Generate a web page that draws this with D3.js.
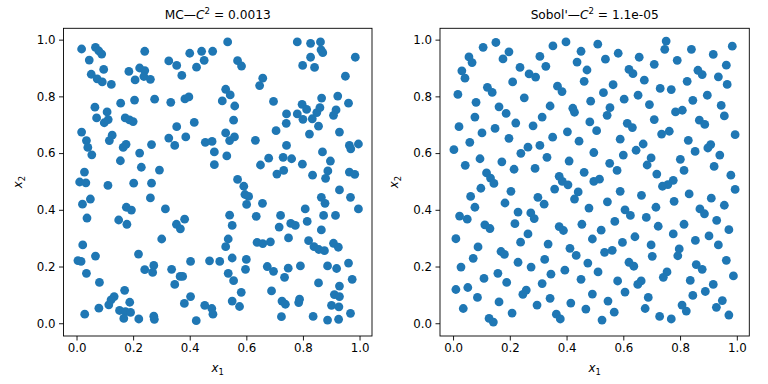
<!DOCTYPE html>
<html><head><meta charset="utf-8">
<script src="https://cdn.jsdelivr.net/npm/d3@7"></script>
<style>body{margin:0;background:#fff}svg{display:block}text{font-family:"DejaVu Sans",sans-serif}</style>
</head><body>
<svg id="c" width="768" height="384"></svg>
<script>
const tickValues = [0.0, 0.2, 0.4, 0.6, 0.8, 1.0];
const mcTitle = {name: "MC—", value: "0.0013"};
const sobolTitle = {name: "Sobol'—", value: "1.1e-05"};
const xLabelSub = "1", yLabelSub = "2";

const mcPoints = [
[0.018,0.967],[0.067,0.973],[0.079,0.960],[0.089,0.949],[0.045,0.928],[0.241,0.959],[0.052,0.878],[0.073,0.862],[0.091,0.851],[0.123,0.842],[0.096,0.895],[0.185,0.888],[0.223,0.900],[0.241,0.891],[0.238,0.870],[0.207,0.858],[0.261,0.860],[0.326,0.925],[0.354,0.909],[0.372,0.874],[0.400,0.952],[0.442,0.959],[0.481,0.959],[0.451,0.927],[0.424,0.903],[0.065,0.762],[0.108,0.745],[0.071,0.724],[0.098,0.707],[0.112,0.718],[0.156,0.776],[0.205,0.787],[0.172,0.724],[0.187,0.717],[0.200,0.711],[0.276,0.790],[0.333,0.779],[0.383,0.791],[0.397,0.798],[0.354,0.693],[0.416,0.708],
[0.534,0.992],[0.780,0.992],[0.827,0.987],[0.862,0.992],[0.864,0.964],[0.870,0.954],[0.985,0.938],[0.827,0.938],[0.799,0.909],[0.841,0.902],[0.569,0.926],[0.583,0.907],[0.658,0.864],[0.647,0.838],[0.950,0.871],[0.527,0.825],[0.543,0.805],[0.515,0.784],[0.559,0.766],[0.555,0.716],[0.696,0.782],[0.866,0.794],[0.923,0.801],[0.961,0.776],[0.797,0.772],[0.813,0.754],[0.780,0.738],[0.800,0.719],[0.833,0.721],[0.849,0.743],[0.860,0.760],[0.742,0.738],[0.741,0.705],[0.917,0.752],[0.908,0.733],[0.855,0.695],
[0.018,0.674],[0.126,0.663],[0.116,0.644],[0.035,0.644],[0.040,0.620],[0.054,0.594],[0.165,0.620],[0.175,0.631],[0.223,0.600],[0.265,0.630],[0.326,0.653],[0.347,0.627],[0.386,0.657],[0.455,0.638],[0.479,0.641],[0.487,0.604],[0.487,0.559],[0.155,0.573],[0.229,0.550],[0.293,0.540],[0.028,0.533],[0.011,0.498],[0.033,0.495],[0.111,0.486],[0.202,0.494],[0.265,0.494],[0.049,0.438],[0.021,0.420],[0.261,0.442],[0.176,0.409],[0.194,0.399],[0.314,0.403],[0.037,0.371],[0.149,0.364],[0.178,0.349],[0.382,0.367],[0.353,0.349],[0.367,0.333],
[0.527,0.671],[0.541,0.644],[0.558,0.657],[0.705,0.679],[0.823,0.667],[0.929,0.674],[0.632,0.645],[0.742,0.627],[0.531,0.590],[0.679,0.582],[0.650,0.558],[0.730,0.585],[0.760,0.580],[0.708,0.526],[0.732,0.539],[0.798,0.561],[0.869,0.604],[0.897,0.572],[0.964,0.627],[0.969,0.615],[0.996,0.632],[0.834,0.522],[0.888,0.537],[0.880,0.511],[0.964,0.533],[0.983,0.525],[0.569,0.507],[0.591,0.483],[0.595,0.454],[0.608,0.447],[0.601,0.419],[0.657,0.423],[0.929,0.470],[0.968,0.444],[0.865,0.444],[0.878,0.423],[0.996,0.403],[0.808,0.403],[0.541,0.381],[0.550,0.345],[0.635,0.377],[0.721,0.380],[0.716,0.339],[0.757,0.352],[0.773,0.345],[0.815,0.359],[0.873,0.380],[0.915,0.380],[0.865,0.329],
[0.022,0.276],[0.005,0.221],[0.016,0.218],[0.067,0.237],[0.035,0.176],[0.081,0.144],[0.133,0.094],[0.122,0.082],[0.114,0.065],[0.079,0.053],[0.170,0.116],[0.188,0.074],[0.152,0.045],[0.173,0.041],[0.191,0.038],[0.167,0.017],[0.029,0.032],[0.219,0.244],[0.301,0.297],[0.241,0.189],[0.273,0.204],[0.269,0.179],[0.336,0.190],[0.366,0.165],[0.375,0.165],[0.347,0.137],[0.403,0.218],[0.470,0.220],[0.220,0.015],[0.273,0.025],[0.275,0.014],[0.403,0.094],[0.381,0.070],[0.453,0.063],[0.478,0.052],[0.482,0.032],[0.423,0.009],
[0.536,0.297],[0.527,0.270],[0.638,0.285],[0.658,0.281],[0.685,0.287],[0.749,0.301],[0.820,0.291],[0.839,0.270],[0.856,0.260],[0.876,0.256],[0.908,0.282],[0.925,0.268],[0.506,0.218],[0.550,0.230],[0.600,0.225],[0.597,0.190],[0.536,0.176],[0.555,0.150],[0.582,0.109],[0.550,0.078],[0.576,0.059],[0.674,0.200],[0.696,0.183],[0.748,0.194],[0.791,0.202],[0.735,0.162],[0.689,0.114],[0.726,0.078],[0.738,0.067],[0.785,0.073],[0.788,0.085],[0.724,0.023],[0.836,0.024],[0.887,0.202],[0.919,0.193],[0.961,0.212],[0.855,0.142],[0.929,0.131],[0.974,0.155],[0.911,0.101],[0.929,0.094],[0.901,0.063],[0.927,0.058],[0.887,0.011],[0.926,0.014],[0.968,0.035]
];

const sobolPoints = [
[0.151,0.990],[0.106,0.973],[0.056,0.939],[0.067,0.919],[0.031,0.890],[0.042,0.864],[0.197,0.957],[0.176,0.932],[0.236,0.902],[0.210,0.851],[0.268,0.879],[0.291,0.868],[0.306,0.941],[0.327,0.906],[0.352,0.978],[0.398,0.992],[0.451,0.959],[0.437,0.921],[0.472,0.893],[0.462,0.853],[0.017,0.807],[0.121,0.832],[0.138,0.814],[0.081,0.779],[0.251,0.795],[0.368,0.836],[0.384,0.817],[0.162,0.763],[0.187,0.740],[0.077,0.727],[0.342,0.766],[0.314,0.727],[0.422,0.758],[0.428,0.744],[0.485,0.783],[0.221,0.706],[0.282,0.696],[0.482,0.710],[0.021,0.693],[0.148,0.687],
[0.510,0.984],[0.751,0.995],[0.746,0.966],[0.537,0.931],[0.582,0.952],[0.656,0.938],[0.709,0.913],[0.790,0.927],[0.840,0.966],[0.917,0.948],[0.984,0.977],[0.963,0.910],[0.620,0.895],[0.634,0.880],[0.674,0.857],[0.863,0.892],[0.878,0.877],[0.935,0.869],[0.966,0.842],[0.825,0.853],[0.730,0.828],[0.769,0.824],[0.564,0.841],[0.530,0.813],[0.603,0.790],[0.652,0.804],[0.692,0.771],[0.553,0.760],[0.543,0.733],[0.709,0.718],[0.784,0.745],[0.808,0.751],[0.845,0.786],[0.896,0.804],[0.945,0.768],[0.956,0.731],[0.868,0.716],[0.887,0.701],[0.614,0.705],[0.632,0.690],
[0.102,0.671],[0.403,0.675],[0.059,0.638],[0.003,0.612],[0.197,0.652],[0.264,0.621],[0.239,0.599],[0.306,0.627],[0.351,0.656],[0.444,0.642],[0.496,0.602],[0.095,0.580],[0.043,0.557],[0.172,0.569],[0.215,0.543],[0.289,0.546],[0.331,0.585],[0.409,0.572],[0.462,0.532],[0.496,0.500],[0.118,0.530],[0.132,0.512],[0.144,0.493],[0.374,0.518],[0.385,0.500],[0.405,0.488],[0.358,0.473],[0.098,0.476],[0.204,0.465],[0.062,0.447],[0.441,0.463],[0.428,0.438],[0.299,0.444],[0.321,0.420],[0.183,0.424],[0.077,0.409],[0.479,0.406],[0.229,0.392],[0.274,0.389],[0.286,0.369],[0.023,0.378],[0.050,0.367],[0.218,0.351],[0.454,0.349],[0.112,0.347],[0.130,0.334],[0.374,0.341],[0.389,0.327],
[0.506,0.679],[0.735,0.667],[0.762,0.677],[0.994,0.665],[0.589,0.649],[0.670,0.632],[0.645,0.610],[0.829,0.645],[0.908,0.630],[0.898,0.618],[0.853,0.606],[0.940,0.593],[0.600,0.593],[0.698,0.583],[0.684,0.558],[0.552,0.564],[0.578,0.539],[0.801,0.578],[0.814,0.539],[0.920,0.553],[0.718,0.526],[0.979,0.522],[0.516,0.508],[0.776,0.504],[0.757,0.489],[0.738,0.483],[0.994,0.472],[0.589,0.465],[0.664,0.451],[0.832,0.456],[0.544,0.428],[0.779,0.430],[0.910,0.441],[0.956,0.416],[0.715,0.409],[0.606,0.400],[0.625,0.380],[0.870,0.403],[0.886,0.386],[0.681,0.373],[0.570,0.359],[0.929,0.363],[0.723,0.342],[0.814,0.349],[0.522,0.328],[0.972,0.330],
[0.264,0.315],[0.010,0.298],[0.088,0.269],[0.238,0.286],[0.335,0.279],[0.412,0.264],[0.434,0.239],[0.491,0.297],[0.169,0.253],[0.181,0.243],[0.071,0.229],[0.028,0.198],[0.229,0.215],[0.275,0.198],[0.323,0.225],[0.475,0.212],[0.394,0.187],[0.345,0.173],[0.158,0.176],[0.109,0.158],[0.189,0.144],[0.451,0.155],[0.314,0.140],[0.010,0.119],[0.052,0.126],[0.258,0.117],[0.246,0.102],[0.086,0.091],[0.162,0.075],[0.342,0.088],[0.491,0.103],[0.296,0.064],[0.415,0.071],[0.468,0.050],[0.036,0.052],[0.208,0.036],[0.127,0.017],[0.142,0.004],[0.364,0.032],[0.378,0.015],
[0.776,0.315],[0.641,0.305],[0.902,0.308],[0.597,0.285],[0.698,0.276],[0.854,0.292],[0.935,0.276],[0.534,0.250],[0.561,0.257],[0.797,0.262],[0.792,0.238],[0.702,0.236],[0.963,0.222],[0.620,0.215],[0.637,0.201],[0.857,0.207],[0.878,0.190],[0.511,0.181],[0.754,0.181],[0.741,0.162],[0.988,0.167],[0.580,0.149],[0.836,0.151],[0.917,0.137],[0.663,0.149],[0.651,0.137],[0.606,0.110],[0.688,0.091],[0.889,0.112],[0.845,0.098],[0.949,0.080],[0.546,0.078],[0.807,0.064],[0.822,0.043],[0.928,0.056],[0.677,0.052],[0.568,0.039],[0.728,0.024],[0.769,0.015],[0.525,0.011],[0.972,0.029]
];

const svg = d3.select("#c");
const color = "#1f77b4";
const fs = 11.8;

function panel(points, title, box) {
  const x = d3.scaleLinear().domain([-0.046, 1.044]).range([box.l, box.r]);
  const y = d3.scaleLinear().domain([-0.045, 1.040]).range([box.b, box.t]);
  const g = svg.append("g");
  g.append("g").selectAll("circle").data(points).join("circle")
    .attr("cx", d => x(d[0])).attr("cy", d => y(d[1])).attr("r", 4.4).attr("fill", color);
  const xa = g.append("g").attr("transform", `translate(0,${box.b})`)
    .call(d3.axisBottom(x).tickValues(tickValues).tickFormat(d3.format(".1f")).tickSize(4.5).tickPadding(3.5));
  const ya = g.append("g").attr("transform", `translate(${box.l},0)`)
    .call(d3.axisLeft(y).tickValues(tickValues).tickFormat(d3.format(".1f")).tickSize(4.5).tickPadding(3.5));
  [xa, ya].forEach(a => {
    a.select(".domain").remove();
    a.selectAll("line").attr("stroke", "#000").attr("stroke-width", 0.9);
    a.selectAll("text").attr("font-size", fs).attr("fill", "#000").attr("font-family", "DejaVu Sans");
  });
  g.append("rect").attr("x", box.l).attr("y", box.t).attr("width", box.r - box.l).attr("height", box.b - box.t)
    .attr("fill", "none").attr("stroke", "#000").attr("stroke-width", 0.9);
  const cx = (box.l + box.r) / 2;
  const t = g.append("text").attr("x", cx).attr("y", 19).attr("text-anchor", "middle").attr("font-size", 12.2);
  t.append("tspan").text(title.name);
  t.append("tspan").attr("font-style", "italic").text("C");
  t.append("tspan").attr("font-size", 8.6).attr("dy", -5).text("2");
  t.append("tspan").attr("dy", 5).text("\u2009=\u20090" === "" ? "" : " = " + title.value);
  const xl = g.append("text").attr("x", cx).attr("y", 372).attr("text-anchor", "middle").attr("font-size", fs);
  xl.append("tspan").attr("font-style", "italic").text("x");
  xl.append("tspan").attr("font-size", 8.4).attr("dy", 3).text(xLabelSub);
  const ly = (box.t + box.b) / 2;
  const yl = g.append("text").attr("transform", `translate(${box.l - 42},${ly}) rotate(-90)`)
    .attr("text-anchor", "middle").attr("font-size", fs);
  yl.append("tspan").attr("font-style", "italic").text("x");
  yl.append("tspan").attr("font-size", 8.4).attr("dy", 3).text(yLabelSub);
}

panel(mcPoints, mcTitle, {l: 63.5, r: 372, t: 28.3, b: 336});
panel(sobolPoints, sobolTitle, {l: 440, r: 749.3, t: 28.3, b: 336});
</script>
</body></html>
